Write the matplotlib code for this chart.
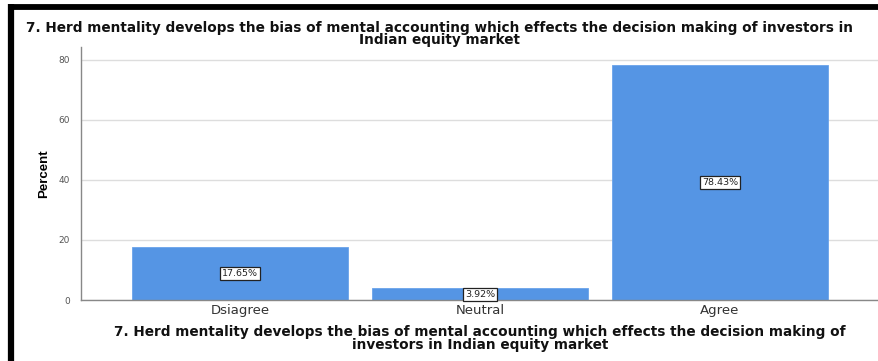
import matplotlib.pyplot as plt
from matplotlib.lines import Line2D

categories = ['Dsiagree', 'Neutral', 'Agree']
percent = [17.65, 3.92, 78.43]
yticks = [0, 20, 40, 60, 80]
title = ('7. Herd mentality develops the bias of mental accounting which effects the decision making of investors in\n'
         'Indian equity market')
xlabel = ('7. Herd mentality develops the bias of mental accounting which effects the decision making of\n'
          'investors in Indian equity market')

plt.rcParams['font.family'] = ['DejaVu Sans']

W, H = 879, 361
fig = plt.figure(figsize=(W / 100, H / 100), dpi=100)
ax = fig.add_axes([81 / W, (H - 300) / H, (W - 81) / W, 253 / H])

x = range(len(categories))
bars = ax.bar(x, percent, width=0.9, color='#5595e4', edgecolor='#6aa3ea', linewidth=0.6, zorder=2)
for b, v in zip(bars, percent):
    ax.text(b.get_x() + b.get_width() / 2, v / 2, f'{v:.2f}%', ha='center', va='center',
            fontsize=6.8, color='#222222', zorder=3,
            bbox=dict(boxstyle='square,pad=0.2', fc='white', ec='#222222', lw=0.9))

ax.set_xlim(-0.6625, 2.6625)
ax.set_ylim(0, 84.3)
ax.set_yticks(yticks)
ax.set_xticks(list(x))
ax.set_xticklabels(categories, fontsize=9.5, color='#333333')
ax.tick_params(axis='y', labelsize=6.5, colors='#555555', length=0, pad=8)
ax.tick_params(axis='x', length=0, pad=3)
ax.grid(axis='y', color='#dddddd', linewidth=1, zorder=0)
for s in ['top', 'right']:
    ax.spines[s].set_visible(False)
for s in ['left', 'bottom']:
    ax.spines[s].set_color('#888888')
    ax.spines[s].set_linewidth(1)

ax.set_ylabel('Percent', fontsize=9.5, fontweight='bold', family='Liberation Sans', labelpad=6)
ax.set_xlabel(xlabel, fontsize=9.8, fontweight='bold', color='#111111', linespacing=0.95, labelpad=5.5)

fig.text(0.5, 1 - 34 / H, title, ha='center', va='center', fontsize=9.8, fontweight='bold',
         color='#111111', linespacing=0.9)

# black frame around the chart
fig.add_artist(Line2D([11 / W, 1], [1 - 7 / H, 1 - 7 / H], color='black', lw=4.2, solid_capstyle='butt'))
fig.add_artist(Line2D([11 / W, 11 / W], [0, 1 - 4 / H], color='black', lw=4.5, solid_capstyle='butt'))

fig.savefig('out.png', dpi=100)
